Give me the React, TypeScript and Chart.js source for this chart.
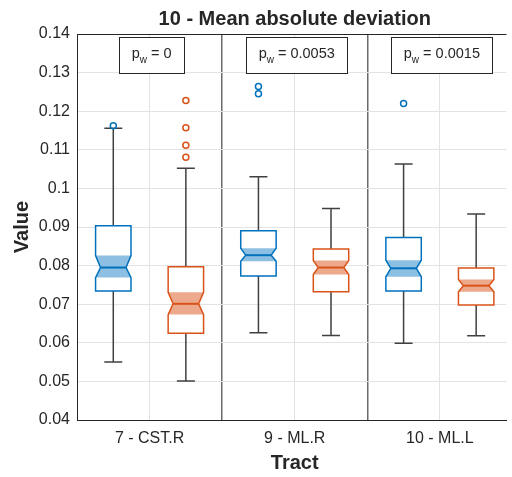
import React, { useEffect, useRef } from "react";
import { Chart, registerables } from "chart.js";
Chart.register(...registerables);

const titleText = "10 - Mean absolute deviation";
const xTitle = "Tract";
const yTitle = "Value";
const categories = ["7 - CST.R", "9 - ML.R", "10 - ML.L"];
const pLabels = ["0", "0.0053", "0.0015"];
const yMin = 0.04;
const yMax = 0.14;
const yStep = 0.01;

// blue series
const blueWhiskerLow = [0.055, 0.0626, 0.0599];
const blueQ1 = [0.0734, 0.0773, 0.0734];
const blueNotchLow = [0.0769, 0.0811, 0.0771];
const blueMedian = [0.0795, 0.0827, 0.0793];
const blueNotchHigh = [0.0826, 0.0845, 0.0814];
const blueQ3 = [0.0903, 0.089, 0.0873];
const blueWhiskerHigh = [0.1156, 0.103, 0.1063];
const blueOutliers = [[0.1162], [0.1264, 0.1245], [0.122]];

// orange series
const orangeWhiskerLow = [0.0501, 0.0619, 0.0618];
const orangeQ1 = [0.0625, 0.0732, 0.0698];
const orangeNotchLow = [0.0673, 0.0777, 0.0732];
const orangeMedian = [0.0701, 0.0795, 0.0748];
const orangeNotchHigh = [0.0731, 0.0813, 0.0764];
const orangeQ3 = [0.0797, 0.0843, 0.0794];
const orangeWhiskerHigh = [0.1052, 0.0948, 0.0934];
const orangeOutliers = [[0.1228, 0.1157, 0.1112, 0.1081], [], []];

const BLUE = "#0072BD";
const ORANGE = "#D95319";
const BLUE_FILL = "rgba(0,114,189,0.45)";
const ORANGE_FILL = "rgba(217,83,25,0.5)";
const WHISKER = "#404040";
const TEXT = "#262626";
const FONT = "'Liberation Sans', Arial, sans-serif";

const series = [
  {
    offset: -0.25,
    color: BLUE,
    fill: BLUE_FILL,
    wl: blueWhiskerLow,
    q1: blueQ1,
    nl: blueNotchLow,
    med: blueMedian,
    nh: blueNotchHigh,
    q3: blueQ3,
    wh: blueWhiskerHigh,
    out: blueOutliers,
  },
  {
    offset: 0.25,
    color: ORANGE,
    fill: ORANGE_FILL,
    wl: orangeWhiskerLow,
    q1: orangeQ1,
    nl: orangeNotchLow,
    med: orangeMedian,
    nh: orangeNotchHigh,
    q3: orangeQ3,
    wh: orangeWhiskerHigh,
    out: orangeOutliers,
  },
];

function txt(ctx: CanvasRenderingContext2D, s: string, x: number, y: number, font: string, align: CanvasTextAlign) {
  ctx.save();
  ctx.font = font;
  ctx.fillStyle = TEXT;
  ctx.textAlign = align;
  ctx.textBaseline = "middle";
  ctx.fillText(s, x, y);
  ctx.restore();
}

const boxPlugin = {
  id: "boxes",
  beforeDatasetsDraw(chart: any) {
    const ctx: CanvasRenderingContext2D = chart.ctx;
    const xs = chart.scales.x;
    const ys = chart.scales.y;
    const HW = 0.122;
    const NW = 0.088;
    const CW = 0.062;
    ctx.save();
    series.forEach((s) => {
      categories.forEach((_, i) => {
        const c = i + 1 + s.offset;
        const xc = xs.getPixelForValue(c);
        const L = xs.getPixelForValue(c - HW);
        const R = xs.getPixelForValue(c + HW);
        const Ln = xs.getPixelForValue(c - NW);
        const Rn = xs.getPixelForValue(c + NW);
        const cl = xs.getPixelForValue(c - CW);
        const cr = xs.getPixelForValue(c + CW);
        const yq1 = ys.getPixelForValue(s.q1[i]);
        const yq3 = ys.getPixelForValue(s.q3[i]);
        const ynl = ys.getPixelForValue(s.nl[i]);
        const ynh = ys.getPixelForValue(s.nh[i]);
        const ym = ys.getPixelForValue(s.med[i]);
        const ywl = ys.getPixelForValue(s.wl[i]);
        const ywh = ys.getPixelForValue(s.wh[i]);
        ctx.strokeStyle = WHISKER;
        ctx.lineWidth = 1.5;
        ctx.beginPath();
        ctx.moveTo(xc, yq3);
        ctx.lineTo(xc, ywh);
        ctx.moveTo(cl, ywh);
        ctx.lineTo(cr, ywh);
        ctx.moveTo(xc, yq1);
        ctx.lineTo(xc, ywl);
        ctx.moveTo(cl, ywl);
        ctx.lineTo(cr, ywl);
        ctx.stroke();
        const outline = () => {
          ctx.beginPath();
          ctx.moveTo(L, yq3);
          ctx.lineTo(R, yq3);
          ctx.lineTo(R, ynh);
          ctx.lineTo(Rn, ym);
          ctx.lineTo(R, ynl);
          ctx.lineTo(R, yq1);
          ctx.lineTo(L, yq1);
          ctx.lineTo(L, ynl);
          ctx.lineTo(Ln, ym);
          ctx.lineTo(L, ynh);
          ctx.closePath();
        };
        ctx.fillStyle = "#ffffff";
        outline();
        ctx.fill();
        ctx.fillStyle = s.fill;
        ctx.beginPath();
        ctx.moveTo(L, ynh);
        ctx.lineTo(R, ynh);
        ctx.lineTo(Rn, ym);
        ctx.lineTo(R, ynl);
        ctx.lineTo(L, ynl);
        ctx.lineTo(Ln, ym);
        ctx.closePath();
        ctx.fill();
        ctx.strokeStyle = s.color;
        ctx.lineWidth = 1.5;
        outline();
        ctx.stroke();
        ctx.lineWidth = 2;
        ctx.beginPath();
        ctx.moveTo(Ln, ym);
        ctx.lineTo(Rn, ym);
        ctx.stroke();
      });
    });
    ctx.restore();
  },
  afterDraw(chart: any) {
    const ctx: CanvasRenderingContext2D = chart.ctx;
    const xs = chart.scales.x;
    const ys = chart.scales.y;
    const area = chart.chartArea;
    const fullRight = xs.getPixelForValue(3.5);
    const plotCenter = (area.left + fullRight) / 2;
    ys.ticks.forEach((t: any) => {
      const v = Math.round(t.value * 100) / 100;
      txt(ctx, String(v), area.left - 7, ys.getPixelForValue(t.value), `16px ${FONT}`, "right");
    });
    categories.forEach((c, i) => {
      txt(ctx, c, xs.getPixelForValue(i + 1), area.bottom + 19, `16px ${FONT}`, "center");
    });
    txt(ctx, xTitle, plotCenter, area.bottom + 43, `bold 20px ${FONT}`, "center");
    ctx.save();
    ctx.translate(22, (area.top + area.bottom) / 2);
    ctx.rotate(-Math.PI / 2);
    txt(ctx, yTitle, 0, 0, `bold 20px ${FONT}`, "center");
    ctx.restore();
    txt(ctx, titleText, plotCenter, area.top - 15, `bold 20px ${FONT}`, "center");
    pLabels.forEach((p, i) => {
      const cx = xs.getPixelForValue(i + 1) + 2;
      const main = `14.5px ${FONT}`;
      const sub = `10px ${FONT}`;
      ctx.save();
      ctx.font = main;
      const wP = ctx.measureText("p").width;
      const wRest = ctx.measureText(` = ${p}`).width;
      ctx.font = sub;
      const wSub = ctx.measureText("w").width;
      ctx.restore();
      const tw = wP + wSub + wRest;
      const bw = tw + 25;
      const top = area.top + 3;
      const h = 36;
      ctx.save();
      ctx.fillStyle = "#ffffff";
      ctx.fillRect(cx - bw / 2, top, bw, h);
      ctx.strokeStyle = TEXT;
      ctx.lineWidth = 1;
      ctx.strokeRect(Math.round(cx - bw / 2) + 0.5, Math.round(top) + 0.5, Math.round(bw), h);
      ctx.restore();
      let x0 = cx - tw / 2;
      const ty = top + 17;
      txt(ctx, "p", x0, ty, main, "left");
      x0 += wP;
      txt(ctx, "w", x0, ty + 6, sub, "left");
      x0 += wSub;
      txt(ctx, ` = ${p}`, x0, ty, main, "left");
    });
  },
};

export default function App() {
  const ref = useRef<HTMLCanvasElement | null>(null);
  useEffect(() => {
    document.body.style.margin = "0";
    if (!ref.current) return;
    const datasets = series.map((s) => ({
      label: s.color,
      data: s.out.flatMap((arr, i) => arr.map((v) => ({ x: i + 1 + s.offset, y: v }))),
      pointStyle: "circle",
      pointRadius: 3,
      pointBorderWidth: 1.5,
      borderColor: s.color,
      pointBorderColor: s.color,
      pointBackgroundColor: "rgba(255,255,255,0)",
      backgroundColor: "rgba(255,255,255,0)",
      showLine: false,
    }));
    const chart = new Chart(ref.current, {
      type: "scatter",
      data: { datasets },
      plugins: [boxPlugin],
      options: {
        animation: false,
        responsive: false,
        devicePixelRatio: 1,
        layout: { padding: { top: 34, left: 0, right: 0, bottom: 0 } },
        plugins: {
          legend: { display: false },
          tooltip: { enabled: false },
          title: { display: false },
        },
        scales: {
          x: {
            type: "linear",
            min: 0.5,
            max: 3.459,
            afterBuildTicks: (scale: any) => {
              scale.ticks = [1, 1.5, 2, 2.5, 3].map((v) => ({ value: v }));
            },
            afterFit: (scale: any) => {
              scale.height = 57;
            },
            ticks: { display: false },
            grid: {
              drawTicks: false,
              color: (c: any) => (c.tick && Math.abs((c.tick.value % 1) - 0.5) < 1e-6 ? "#6a6a6a" : "#e3e3e3"),
              lineWidth: (c: any) => (c.tick && Math.abs((c.tick.value % 1) - 0.5) < 1e-6 ? 1.5 : 1),
            },
            border: { display: true, color: TEXT, width: 1 },
          },
          y: {
            type: "linear",
            min: yMin,
            max: yMax,
            afterFit: (scale: any) => {
              scale.width = 77;
            },
            ticks: { display: false, stepSize: yStep },
            grid: {
              drawTicks: false,
              color: (c: any) => (c.tick && Math.abs(c.tick.value - yMax) < 1e-6 ? TEXT : "#e3e3e3"),
            },
            border: { display: true, color: TEXT, width: 1 },
          },
        },
      } as any,
    });
    return () => chart.destroy();
  }, []);
  return (
    <div style={{ position: "fixed", left: 0, top: 0, width: 512, height: 477, background: "#fff" }}>
      <canvas ref={ref} width={512} height={477} />
    </div>
  );
}
